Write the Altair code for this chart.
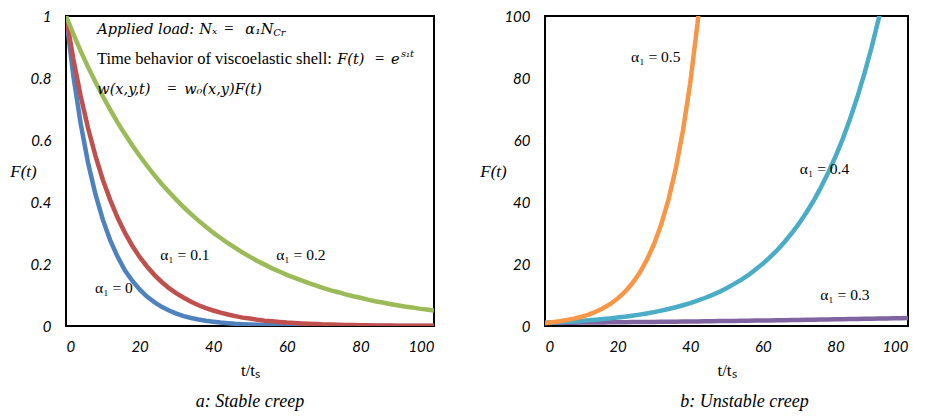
import altair as alt
import pandas as pd

# ---------------- data ----------------
t_step = list(range(0, 101, 2))

f_alpha_0 = [1.000, 0.807, 0.652, 0.526, 0.425, 0.343, 0.277, 0.224, 0.180, 0.146, 0.118,
             0.095, 0.077, 0.062, 0.050, 0.040, 0.032, 0.026, 0.021, 0.017, 0.014,
             0.011, 0.009, 0.007, 0.006, 0.005, 0.004, 0.003, 0.0025, 0.002, 0.0016,
             0.0013, 0.0011, 0.0009, 0.0007, 0.0006, 0.0004, 0.0004, 0.0003, 0.0002, 0.0002,
             0.0001, 0.0001, 0.0001, 0.0001, 0.0001, 0.0, 0.0, 0.0, 0.0, 0.0]
f_alpha_01 = [1.000, 0.861, 0.741, 0.638, 0.549, 0.472, 0.407, 0.350, 0.301, 0.259, 0.223,
              0.192, 0.165, 0.142, 0.122, 0.105, 0.091, 0.078, 0.067, 0.058, 0.050,
              0.043, 0.037, 0.032, 0.027, 0.024, 0.020, 0.017, 0.015, 0.013, 0.011,
              0.0096, 0.0082, 0.0071, 0.0061, 0.0052, 0.0045, 0.0039, 0.0033, 0.0029, 0.0025,
              0.0021, 0.0018, 0.0016, 0.0014, 0.0012, 0.0010, 0.0009, 0.0007, 0.0006, 0.0006]
f_alpha_02 = [1.000, 0.942, 0.887, 0.835, 0.787, 0.741, 0.698, 0.657, 0.619, 0.583, 0.549,
              0.517, 0.487, 0.458, 0.432, 0.407, 0.383, 0.361, 0.340, 0.320, 0.301,
              0.284, 0.267, 0.252, 0.237, 0.223, 0.210, 0.198, 0.186, 0.176, 0.165,
              0.156, 0.147, 0.138, 0.130, 0.122, 0.115, 0.109, 0.102, 0.096, 0.091,
              0.085, 0.080, 0.076, 0.071, 0.067, 0.063, 0.060, 0.056, 0.053, 0.050]

t_alpha_05 = list(range(0, 45, 2))
f_alpha_05 = [1.00, 1.24, 1.55, 1.92, 2.39, 2.97, 3.70, 4.60, 5.72, 7.11, 8.85,
              11.0, 13.7, 17.0, 21.2, 26.3, 32.7, 40.7, 50.6, 63.0, 78.3, 97.4, 121.1]
t_alpha_04 = list(range(0, 95, 2))
f_alpha_04 = [1.00, 1.11, 1.22, 1.35, 1.49, 1.65, 1.82, 2.01, 2.23, 2.46, 2.72,
              3.00, 3.32, 3.67, 4.06, 4.48, 4.95, 5.47, 6.05, 6.69, 7.39,
              8.17, 9.03, 9.97, 11.0, 12.2, 13.5, 14.9, 16.4, 18.2, 20.1,
              22.2, 24.5, 27.1, 30.0, 33.1, 36.6, 40.4, 44.7, 49.4, 54.6,
              60.3, 66.7, 73.7, 81.5, 90.0, 99.5, 110.0]
f_alpha_03 = [1.00, 1.02, 1.04, 1.06, 1.08, 1.10, 1.12, 1.14, 1.16, 1.19, 1.21,
              1.23, 1.26, 1.28, 1.30, 1.33, 1.36, 1.38, 1.41, 1.43, 1.46,
              1.49, 1.52, 1.55, 1.58, 1.61, 1.64, 1.67, 1.70, 1.74, 1.77,
              1.80, 1.84, 1.87, 1.91, 1.94, 1.98, 2.02, 2.06, 2.10, 2.14,
              2.18, 2.22, 2.26, 2.31, 2.35, 2.40, 2.44, 2.49, 2.54, 2.59]

left_series = ["a0", "a1", "a2"]
left_colors = ["#4F81BD", "#C0504D", "#9BBB59"]
right_series = ["a3", "a4", "a5"]
right_colors = ["#8064A2", "#4BACC6", "#F79646"]

x_ticks = [0, 20, 40, 60, 80, 100]
y_ticks_left = [0, 0.2, 0.4, 0.6, 0.8, 1]
y_ticks_right = [0, 20, 40, 60, 80, 100]

# annotation texts (left panel)
ann_italic_text = ["Applied load:", "Nₓ", "α₁N", "F(t)", "e", "w(x,y,t)", "w₀(x,y)F(t)"]
ann_italic_t = [8.5, 36.2, 48.7, 73.7, 88.3, 8.5, 32.1]
ann_italic_F = [0.943, 0.943, 0.943, 0.846, 0.846, 0.750, 0.750]
ann_plain_text = ["=", "Time behavior of viscoelastic shell:", "=", "="]
ann_plain_t = [43.0, 8.4, 84.0, 27.5]
ann_plain_F = [0.943, 0.846, 0.846, 0.750]
ann_small_text = ["Cr", "s₁t"]
ann_small_t = [56.3, 91.0]
ann_small_F = [0.934, 0.868]

left_label_text = ["α₁ = 0", "α₁ = 0.1", "α₁ = 0.2"]
left_label_t = [7.9, 25.6, 57.1]
left_label_F = [0.124, 0.229, 0.229]
right_label_text = ["α₁ = 0.5", "α₁ = 0.4", "α₁ = 0.3"]
right_label_t = [23.7, 70.2, 75.8]
right_label_F = [86.9, 50.5, 9.9]


def long_df(ts, fs, name):
    return pd.DataFrame({"t": ts, "F": fs, "series": name})


left_df = pd.concat([long_df(t_step, f_alpha_0, "a0"),
                     long_df(t_step, f_alpha_01, "a1"),
                     long_df(t_step, f_alpha_02, "a2")])
right_df = pd.concat([long_df(t_step, f_alpha_03, "a3"),
                      long_df(t_alpha_04, f_alpha_04, "a4"),
                      long_df(t_alpha_05, f_alpha_05, "a5")])

SERIF = "Liberation Serif"
MATH = "DejaVu Serif"


def text_layer(texts, ts, fs, size, style="normal", baseline="alphabetic", font=SERIF):
    d = pd.DataFrame({"label": texts, "t": ts, "F": fs})
    return alt.Chart(d).mark_text(
        align="left", baseline=baseline, font=font, fontSize=size,
        fontStyle=style, color="black"
    ).encode(x="t:Q", y="F:Q", text="label:N")


def panel(df, dom, rng, ydomain, yticks, yfmt, title_x, width, caption, extras, cap_dx):
    lines = alt.Chart(df).mark_line(strokeWidth=4.5, clip=True).encode(
        x=alt.X("t:Q", scale=alt.Scale(domain=[0, 100], nice=False),
                axis=alt.Axis(values=x_ticks, title="t/tₛ", labelPadding=13,
                              titlePadding=8, titleFontStyle="normal")),
        y=alt.Y("F:Q", scale=alt.Scale(domain=ydomain, nice=False),
                axis=alt.Axis(values=yticks, format=yfmt, title="F(t)", titleAngle=0,
                              titleX=title_x, titleY=155, titleAlign="center",
                              titleBaseline="middle", labelPadding=15)),
        color=alt.Color("series:N", scale=alt.Scale(domain=dom, range=rng), legend=None),
        detail="series:N",
    )
    return alt.layer(lines, *extras).properties(
        width=width, height=310,
        title=alt.TitleParams(caption, orient="bottom", font=SERIF, fontStyle="italic",
                              fontWeight="normal", fontSize=18, color="black",
                              offset=15, dx=cap_dx),
    )


left = panel(
    left_df, left_series, left_colors, [0, 1], y_ticks_left, "~g", -43, 368,
    "a: Stable creep",
    [
        text_layer(ann_italic_text, ann_italic_t, ann_italic_F, 14.5, "italic", font=MATH),
        text_layer(ann_plain_text, ann_plain_t, ann_plain_F, 16.5),
        text_layer(ann_small_text, ann_small_t, ann_small_F, 10, "italic", font=MATH),
        text_layer(left_label_text, left_label_t, left_label_F, 15.5, baseline="middle"),
    ],
    0,
)
right = panel(
    right_df, right_series, right_colors, [0, 100], y_ticks_right, "d", -52, 363,
    "b: Unstable creep",
    [text_layer(right_label_text, right_label_t, right_label_F, 15.5, baseline="middle")],
    18,
)

chart = alt.hconcat(left, right, spacing=43).resolve_scale(
    color="independent"
).properties(
    padding={"left": 0, "top": 0, "right": 0, "bottom": 0}
).configure_view(stroke="black", strokeWidth=2).configure_axis(
    grid=False, ticks=False, domain=False,
    labelFont="Lato", labelFontStyle="italic", labelFontSize=15, labelColor="black",
    titleFont=SERIF, titleFontStyle="italic", titleFontWeight="normal",
    titleFontSize=17, titleColor="black",
)

chart.save("out.html", embed_options={"renderer": "svg", "actions": False})
